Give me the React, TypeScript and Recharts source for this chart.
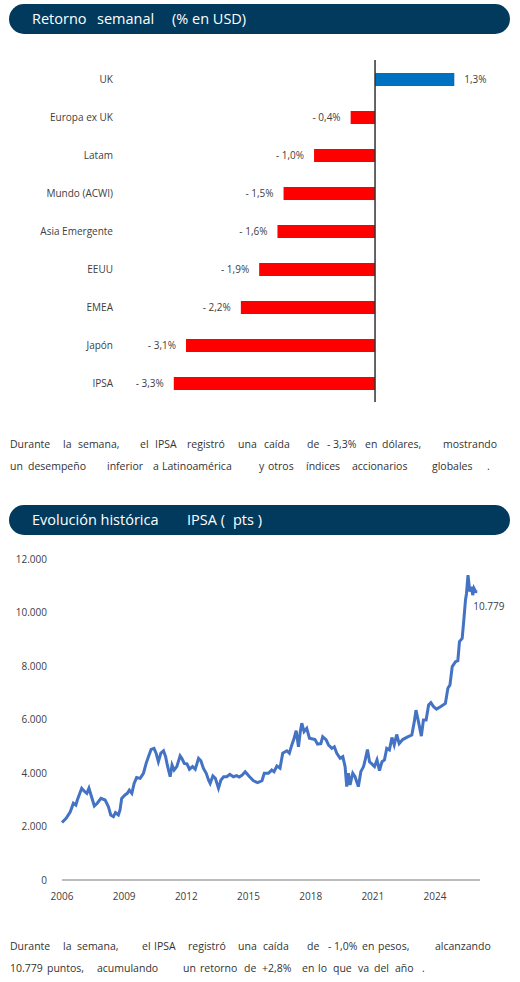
import React from "react";
import {
  BarChart, Bar, XAxis, YAxis, Cell, LabelList, ReferenceLine,
  LineChart, Line,
} from "recharts";

const regions = ["UK", "Europa ex UK", "Latam", "Mundo (ACWI)", "Asia Emergente", "EEUU", "EMEA", "Japón", "IPSA"];
const weeklyReturns = [1.3, -0.4, -1.0, -1.5, -1.6, -1.9, -2.2, -3.1, -3.3];

const ipsaYears = [
  2006.00, 2006.20, 2006.40, 2006.55, 2006.67, 2006.74, 2006.95, 2007.10, 2007.20, 2007.30,
  2007.40, 2007.56, 2007.70, 2007.88, 2008.08, 2008.24, 2008.35, 2008.48, 2008.58, 2008.72,
  2008.80, 2008.88, 2009.04, 2009.15, 2009.25, 2009.37, 2009.48, 2009.60, 2009.77, 2009.93,
  2010.06, 2010.17, 2010.30, 2010.44, 2010.54, 2010.65, 2010.77, 2010.90, 2011.00, 2011.08,
  2011.22, 2011.31, 2011.41, 2011.54, 2011.70, 2011.78, 2011.90, 2012.03, 2012.15, 2012.30,
  2012.43, 2012.59, 2012.70, 2012.82, 2012.96, 2013.07, 2013.15, 2013.28, 2013.40, 2013.55,
  2013.67, 2013.80, 2013.95, 2014.10, 2014.27, 2014.43, 2014.55, 2014.68, 2014.84, 2015.05,
  2015.24, 2015.44, 2015.65, 2015.76, 2015.96, 2016.12, 2016.23, 2016.37, 2016.52, 2016.65,
  2016.85, 2016.97, 2017.09, 2017.20, 2017.30, 2017.41, 2017.50, 2017.57, 2017.68, 2017.81,
  2017.94, 2018.10, 2018.21, 2018.33, 2018.49, 2018.58, 2018.74, 2018.86, 2019.02, 2019.14,
  2019.26, 2019.42, 2019.55, 2019.66, 2019.74, 2019.82, 2019.90, 2020.03, 2020.14, 2020.30,
  2020.42, 2020.55, 2020.63, 2020.74, 2020.84, 2020.95, 2021.08, 2021.20, 2021.32, 2021.44,
  2021.56, 2021.67, 2021.80, 2021.92, 2022.03, 2022.15, 2022.27, 2022.44, 2022.68, 2022.88,
  2023.00, 2023.08, 2023.20, 2023.34, 2023.44, 2023.57, 2023.69, 2023.80, 2023.93, 2024.07,
  2024.26, 2024.50, 2024.62, 2024.72, 2024.83, 2024.99, 2025.10, 2025.18, 2025.31, 2025.39,
  2025.47, 2025.52, 2025.59, 2025.68, 2025.75, 2025.82, 2025.88, 2025.96, 2026.04,
];
const ipsaValues = [
  2150, 2310, 2550, 2870, 2800, 2990, 3430, 3300, 3240, 3430,
  3180, 2770, 2870, 3050, 2990, 2740, 2430, 2370, 2520, 2430,
  2620, 3050, 3180, 3240, 3360, 3240, 3610, 3830, 3800, 3990,
  4360, 4610, 4880, 4920, 4740, 4420, 4740, 4830, 4610, 4300,
  3860, 4300, 4110, 4240, 4640, 4550, 4360, 4340, 4140, 4240,
  4140, 4550, 4460, 4180, 3990, 3740, 3610, 3890, 3800, 3430,
  3740, 3860, 3860, 3950, 3860, 3900, 3850, 3910, 4050, 3860,
  3710, 3640, 3710, 3990, 3990, 4110, 4050, 4260, 4180, 4740,
  4830, 4740, 5050, 5300, 5580, 4980, 5550, 5860, 5550, 5670,
  5300, 5270, 5250, 5080, 5100, 5360, 5250, 5050, 4920, 4980,
  4740, 4550, 4610, 4240, 3490, 3990, 3550, 3990, 3860, 3490,
  4050, 4240, 4490, 4880, 4420, 4340, 4240, 4490, 4090, 4420,
  4490, 4920, 4860, 5330, 5050, 5440, 5100, 5250, 5350, 5420,
  5920, 6350, 5920, 5380, 5980, 5980, 6540, 6630, 6480, 6390,
  6480, 6600, 7170, 7290, 7980, 8160, 8200, 8910, 9030, 9720,
  10470, 10720, 11400, 10780, 10960, 10650, 10900, 10780, 10779,
];

const yearTicks = [2006, 2009, 2012, 2015, 2018, 2021, 2024];
const levelTicks = [0, 2000, 4000, 6000, 8000, 10000, 12000];
const returnDomain = [-4.1, 2];
const levelDomain = [0, 12000];
const yearDomain = [2006, 2026.17];

const NAVY = "#013a5c";
const TEXT = "#404040";
const FONT = "'Open Sans', sans-serif";

const barData = regions.map((name, i) => ({ name, value: weeklyReturns[i] }));
const lineData = ipsaYears.map((t, i) => ({ t, v: ipsaValues[i] }));

const fmtPct = (v: number) => {
  const s = Math.abs(v).toFixed(1).replace(".", ",") + "%";
  return v < 0 ? "- " + s : s;
};
const fmtThousands = (v: number) =>
  String(Math.round(v)).replace(/\B(?=(\d{3})+(?!\d))/g, ".");

type Placed = [string, number];

const Header = ({ top, parts }: { top: number; parts: Placed[] }) => (
  <div
    style={{
      position: "absolute", left: 9, top, width: 501, height: 30, borderRadius: 15,
      background: NAVY, color: "#fff", fontFamily: FONT, fontSize: 14.5,
      lineHeight: "30px",
    }}
  >
    {parts.map(([w, x], i) => (
      <span key={i} style={{ position: "absolute", left: x - 9, top: 0, whiteSpace: "pre" }}>{w}</span>
    ))}
  </div>
);

const Words = ({ top, words }: { top: number; words: Placed[] }) => (
  <div style={{ position: "absolute", left: 0, top, height: 22, fontFamily: FONT, fontSize: 10.5, lineHeight: "22px", color: "#333" }}>
    {words.map(([w, x], i) => (
      <span key={i} style={{ position: "absolute", left: x, top: 0, whiteSpace: "pre" }}>{w}</span>
    ))}
  </div>
);

const p1l1: Placed[] = [["Durante", 10], ["la", 63], ["semana,", 78], ["el", 140], ["IPSA", 155], ["registró", 187], ["una", 238], ["caída", 264], ["de", 307], ["- 3,3%", 327], ["en", 365], ["dólares,", 382], ["mostrando", 443]];
const p1l2: Placed[] = [["un", 10], ["desempeño", 28], ["inferior", 107], ["a", 153], ["Latinoamérica", 162], ["y", 259], ["otros", 268], ["índices", 306], ["accionarios", 352], ["globales", 432], [".", 487]];
const p2l1: Placed[] = [["Durante", 10], ["la", 63], ["semana,", 77], ["el", 142], ["IPSA", 154], ["registró", 188], ["una", 238], ["caída", 263], ["de", 307], ["- 1,0%", 328], ["en", 362], ["pesos,", 378], ["alcanzando", 435]];
const p2l2: Placed[] = [["10.779", 10], ["puntos,", 47], ["acumulando", 97], ["un", 183], ["retorno", 200], ["de", 244], ["+2,8%", 262], ["en", 302], ["lo", 318], ["que", 333], ["va", 358], ["del", 374], ["año", 395], [".", 422]];

const BarValueLabel = (props: any) => {
  const { x, y, width, height, value } = props;
  const neg = value < 0;
  const tx = neg ? Math.min(x, x + width) - 10 : Math.max(x, x + width) + 10;
  return (
    <text x={tx} y={y + height / 2} dy="0.35em" textAnchor={neg ? "end" : "start"}
      fontFamily={FONT} fontSize={10} fill={TEXT}>
      {fmtPct(value)}
    </text>
  );
};

const LastLabel = (props: any) => {
  const { x, y, index, value } = props;
  if (index !== lineData.length - 1) return null;
  return (
    <text x={x - 4} y={y + 18} fontFamily={FONT} fontSize={10} fill={TEXT}>
      {fmtThousands(value)}
    </text>
  );
};

export default function App() {
  return (
    <div style={{ position: "absolute", left: 0, top: 0, width: 520, height: 982, background: "#fff" }}>
      <Header top={4} parts={[["Retorno", 32], ["semanal", 97], ["(% en USD)", 172]]} />

      <div style={{ position: "absolute", left: 0, top: 0 }}>
        <BarChart width={520} height={420} data={barData} layout="vertical"
          margin={{ top: 60, right: 23, bottom: 18, left: 0 }} barSize={13}>
          <XAxis type="number" domain={returnDomain} hide />
          <YAxis type="category" dataKey="name" width={125} tickSize={0} tickMargin={12}
            axisLine={false} tickLine={false}
            tick={{ fontFamily: FONT, fontSize: 10, fill: TEXT }} />
          <Bar dataKey="value" isAnimationActive={false}>
            {barData.map((d, i) => (
              <Cell key={i} fill={d.value >= 0 ? "#0070c0" : "#ff0000"} />
            ))}
            <LabelList dataKey="value" content={BarValueLabel} />
          </Bar>
          <ReferenceLine x={0} stroke="#333" strokeWidth={1.5} />
        </BarChart>
      </div>

      <Words top={433} words={p1l1} />
      <Words top={455} words={p1l2} />

      <Header top={505} parts={[["Evolución histórica", 32], ["IPSA (", 187], ["pts )", 233]]} />

      <div style={{ position: "absolute", left: 0, top: 540 }}>
        <LineChart width={520} height={370} data={lineData}
          margin={{ top: 19, right: 40, bottom: 0, left: 0 }}>
          <XAxis type="number" dataKey="t" domain={yearDomain} ticks={yearTicks} interval={0}
            height={30} tickSize={0} tickMargin={13} tickLine={false}
            axisLine={{ stroke: "#a6a6a6", strokeWidth: 1.5 }}
            tick={{ fontFamily: FONT, fontSize: 10, fill: TEXT }} />
          <YAxis type="number" domain={levelDomain} ticks={levelTicks} interval={0}
            width={62} tickSize={0} tickMargin={15} axisLine={false} tickLine={false}
            tickFormatter={fmtThousands}
            tick={{ fontFamily: FONT, fontSize: 10, fill: TEXT }} />
          <Line type="linear" dataKey="v" stroke="#4472c4" strokeWidth={3} dot={false}
            isAnimationActive={false}>
            <LabelList dataKey="v" content={LastLabel} />
          </Line>
        </LineChart>
      </div>

      <Words top={935} words={p2l1} />
      <Words top={957} words={p2l2} />
    </div>
  );
}
